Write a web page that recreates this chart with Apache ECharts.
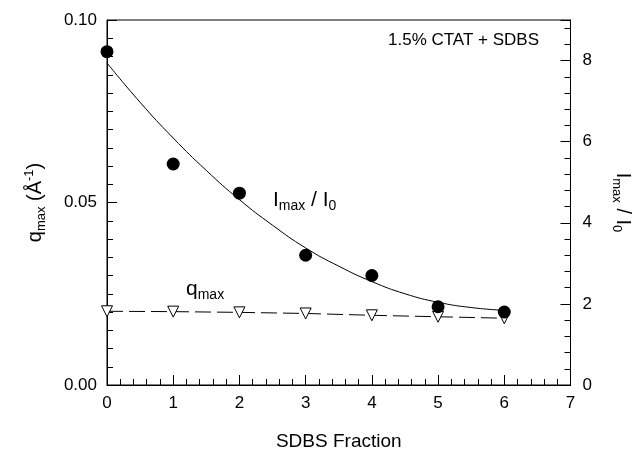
<!DOCTYPE html>
<html>
<head>
<meta charset="utf-8">
<script src="https://cdn.jsdelivr.net/npm/echarts@6/dist/echarts.min.js"></script>
<style>html,body{margin:0;padding:0;background:#fff}#c{width:643px;height:457px}</style>
</head>
<body>
<div id="c"></div>
<script>
// SDBS fraction positions of the measurements
var fractions = [0, 1, 2, 3, 4, 5, 6];
// I_max / I_0 (right axis), filled circles
var intensityRatio = [8.22, 5.45, 4.73, 3.2, 2.7, 1.93, 1.8];
// q_max (left axis, Å^-1), open down triangles
var qMax = [0.0202, 0.0201, 0.0199, 0.0196, 0.0191, 0.0187, 0.0183];
// solid fit curve through I_max/I_0
var curveX = [0, 0.5, 1, 1.5, 2, 2.5, 3, 3.5, 4, 4.5, 5, 5.5, 6];
var curveY = [7.94, 6.97, 6.09, 5.29, 4.57, 3.94, 3.38, 2.93, 2.55, 2.25, 2.04, 1.91, 1.84];
// tick labels
var xTicks = [0, 1, 2, 3, 4, 5, 6, 7];
var leftTicks = ['0.00', '0.05', '0.10'];
var rightTicks = [0, 2, 4, 6, 8];

function pairs(xs, ys) { return xs.map(function (x, i) { return [x, ys[i]]; }); }

var FONT = 'Liberation Sans, Arial, Helvetica, sans-serif';
var chart = echarts.init(document.getElementById('c'), null, { renderer: 'canvas' });

function axisBase(split) {
  return {
    axisLine: { show: true, onZero: false, lineStyle: { color: '#000', width: 1 } },
    axisTick: { show: true, inside: true, length: 10, lineStyle: { color: '#000', width: 1 } },
    minorTick: { show: true, splitNumber: split, length: 6, lineStyle: { color: '#000', width: 1 } },
    splitLine: { show: false },
    minorSplitLine: { show: false }
  };
}
function labelStyle(fmt, extra) {
  return Object.assign({ color: '#000', fontSize: 17, fontFamily: FONT, margin: 10, formatter: fmt }, extra || {});
}
var subRich = {
  q: { fontSize: 20, fontFamily: FONT, color: '#000', lineHeight: 20 },
  sub: { fontSize: 13, fontFamily: FONT, color: '#000', lineHeight: 20, padding: [12, 0, 0, 0] },
  sup: { fontSize: 13, fontFamily: FONT, color: '#000', lineHeight: 20, padding: [0, 0, 12, 0] }
};
var graphicRich = {
  q: { fontSize: 21, fontFamily: FONT, fill: '#000', lineHeight: 22 },
  sub: { fontSize: 14, fontFamily: FONT, fill: '#000', lineHeight: 22, padding: [12, 0, 0, 0] }
};

chart.setOption({
  animation: false,
  backgroundColor: '#fff',
  grid: { left: 107, right: 71, top: 20, bottom: 72, show: true, borderColor: '#000', borderWidth: 1, backgroundColor: 'transparent' },
  xAxis: Object.assign(axisBase(5), {
    type: 'value', min: 0, max: 7, interval: 1,
    axisLabel: labelStyle(function (v) { return xTicks.indexOf(v) >= 0 ? String(v) : ''; }),
    name: 'SDBS Fraction', nameLocation: 'middle', nameGap: 47,
    nameTextStyle: { color: '#000', fontSize: 19, fontFamily: FONT }
  }),
  yAxis: [
    Object.assign(axisBase(10), {
      type: 'value', min: 0, max: 0.1, interval: 0.05, position: 'left',
      axisLabel: labelStyle(function (v) { var s = v.toFixed(2); return leftTicks.indexOf(s) >= 0 ? s : ''; }),
      name: '{q|q}{sub|max}{q| (Å}{sup|-1}{q|)}', nameLocation: 'middle', nameGap: 62, nameRotate: 90,
      nameTextStyle: { color: '#000', fontFamily: FONT, rich: subRich }
    }),
    Object.assign(axisBase(5), {
      type: 'value', min: 0, max: 9, interval: 2, position: 'right',
      axisLabel: labelStyle(function (v) { return rightTicks.indexOf(v) >= 0 ? String(v) : ''; }, { showMaxLabel: false, margin: 12 }),
      name: '{q|I}{sub|max}{q| / I}{sub|0}', nameLocation: 'middle', nameGap: 42, nameRotate: -90,
      nameTextStyle: { color: '#000', fontFamily: FONT, rich: subRich }
    })
  ],
  graphic: [
    { type: 'text', left: 388, top: 32, style: { text: '1.5% CTAT + SDBS', fontSize: 17, fontFamily: FONT, fill: '#000' } },
    { type: 'text', left: 273, top: 187, style: { text: '{q|I}{sub|max}{q| / I}{sub|0}', rich: graphicRich } },
    { type: 'text', left: 186, top: 276, style: { text: '{q|q}{sub|max}', rich: graphicRich } }
  ],
  series: [
    {
      type: 'line', yAxisIndex: 1, data: pairs(curveX, curveY), smooth: true, showSymbol: false,
      lineStyle: { color: '#000', width: 1 }, z: 2
    },
    {
      type: 'line', yAxisIndex: 0, data: pairs(fractions, qMax),
      symbol: 'triangle', symbolRotate: 180, symbolSize: 11,
      itemStyle: { color: '#fff', borderColor: '#000', borderWidth: 1, opacity: 1 },
      lineStyle: { color: '#000', width: 1, type: [16, 6] }, z: 3
    },
    {
      type: 'scatter', yAxisIndex: 1, data: pairs(fractions, intensityRatio),
      symbol: 'circle', symbolSize: 13, itemStyle: { color: '#000', opacity: 1 }, z: 4
    }
  ]
});
</script>
</body>
</html>
